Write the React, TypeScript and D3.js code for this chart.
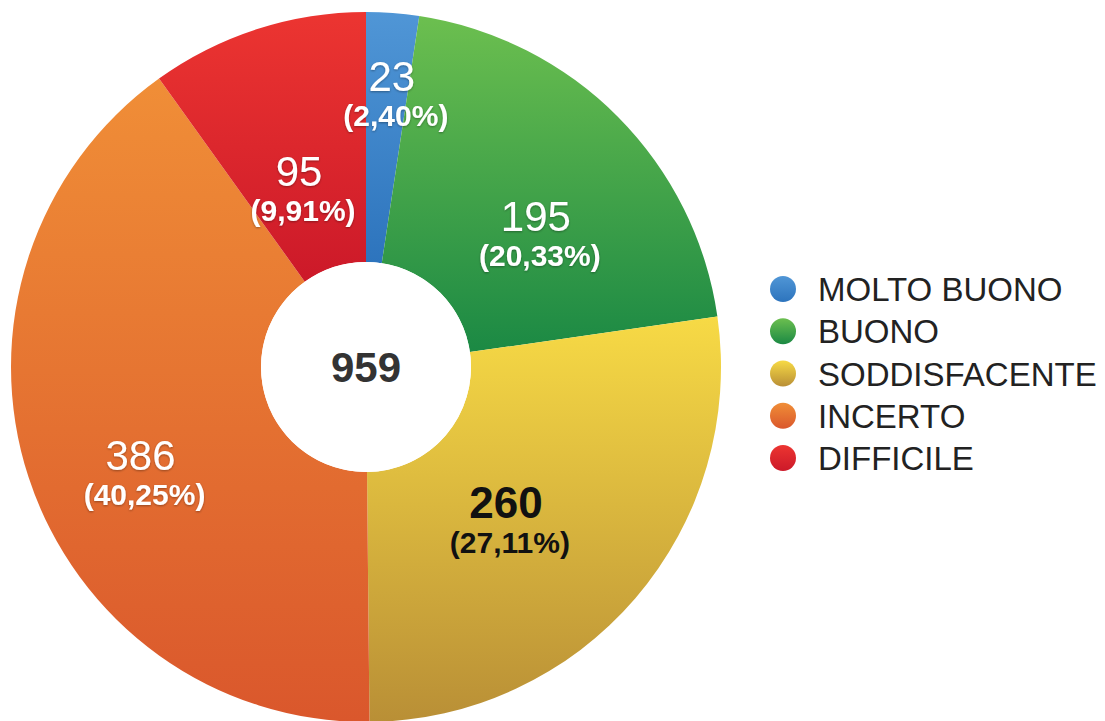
import React from 'react';
import * as d3 from 'd3';

const categories = ['MOLTO BUONO', 'BUONO', 'SODDISFACENTE', 'INCERTO', 'DIFFICILE'];
const counts = [23, 195, 260, 386, 95];
const percentLabels = ['(2,40%)', '(20,33%)', '(27,11%)', '(40,25%)', '(9,91%)'];
const totalLabel = '959';

// gradient stops per slice (top -> bottom)
const colorsTop = ['#5096d6', '#6cbf4f', '#f7da45', '#f08e37', '#ec3531'];
const colorsBottom = ['#2d74bd', '#1b8944', '#b98f36', '#da572c', '#cc1929'];
const textColors = ['#fff', '#fff', '#111', '#fff', '#fff'];

// label placement: radius and small angular nudge (degrees)
const labelRadius = [274, 216, 208, 249, 190];
const labelNudge = [1.1, 6.6, 7.1, -7, -2.8];

const W = 1105;
const H = 721;
const cx = 366;
const cy = 367;
const outerR = 355;
const innerR = 105;
const font = '"Liberation Sans", Arial, Helvetica, sans-serif';

export default function App() {
  const pie = d3.pie<number>().sort(null).value(d => d);
  const arcs = pie(counts);
  const arc = d3.arc<d3.PieArcDatum<number>>().innerRadius(innerR).outerRadius(outerR);

  const legendY = d3.scalePoint<string>().domain(categories).range([289, 458]);

  return (
    <svg width={W} height={H} style={{position: 'absolute', left: 0, top: 0, display: 'block'}}>
      <defs>
        {categories.map((c, i) => (
          <linearGradient key={c} id={'g' + i} x1="0" y1="0" x2="0" y2="1">
            <stop offset="0%" stopColor={colorsTop[i]} />
            <stop offset="100%" stopColor={colorsBottom[i]} />
          </linearGradient>
        ))}
        <filter id="ts" x="-20%" y="-20%" width="140%" height="140%">
          <feDropShadow dx="0" dy="1" stdDeviation="0.8" floodColor="#000" floodOpacity="0.35" />
        </filter>
      </defs>
      <g transform={`translate(${cx},${cy})`}>
        {arcs.map((a, i) => (
          <path key={i} d={arc(a) || ''} fill={`url(#g${i})`} />
        ))}
        <circle r={innerR} fill="#fff" />
        <text
          y={15}
          textAnchor="middle"
          fontFamily={font}
          fontSize={42}
          fontWeight="bold"
          fill="#333"
        >
          {totalLabel}
        </text>
        {arcs.map((a, i) => {
          const mid = (a.startAngle + a.endAngle) / 2 + (labelNudge[i] * Math.PI) / 180;
          const x = labelRadius[i] * Math.sin(mid);
          const y = -labelRadius[i] * Math.cos(mid);
          const dark = textColors[i] !== '#fff';
          return (
            <g key={'l' + i} transform={`translate(${x},${y})`} fontFamily={font}
               fill={textColors[i]} textAnchor="middle" filter={dark ? undefined : 'url(#ts)'}>
              <text y={-3} fontSize={dark ? 44 : 42} fontWeight={dark ? 'bold' : 'normal'}>
                {counts[i]}
              </text>
              <text x={4} y={32} fontSize={30} fontWeight="bold">
                {percentLabels[i]}
              </text>
            </g>
          );
        })}
      </g>
      <g fontFamily={font}>
        {categories.map((c, i) => (
          <g key={c} transform={`translate(783,${legendY(c)})`}>
            <circle r={13} fill={`url(#g${i})`} />
            <text x={35} y={12} fontSize={33} fill="#222">
              {c}
            </text>
          </g>
        ))}
      </g>
    </svg>
  );
}
